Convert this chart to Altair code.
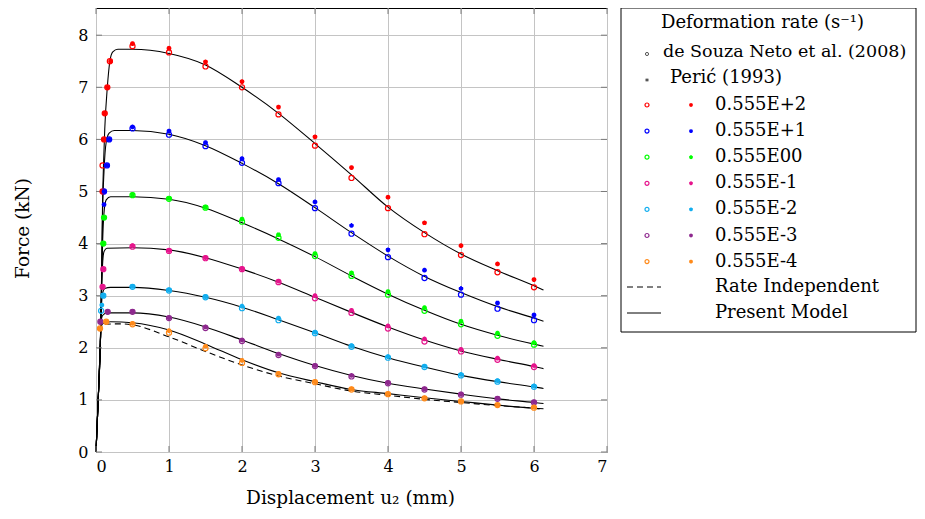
import altair as alt
import pandas as pd

# ---------------- data ----------------
X_MAIN = [0.5, 1.0, 1.5, 2.0, 2.5, 3.0, 3.5, 4.0, 4.5, 5.0, 5.5, 6.0]
RATES = ["0.555E+2", "0.555E+1", "0.555E00", "0.555E-1", "0.555E-2", "0.555E-3", "0.555E-4"]
RATE_COLORS = ["#ff0000", "#0000ff", "#00ff00", "#e6148c", "#12aeef", "#8e288e", "#ff8a1a"]

# de Souza Neto et al. (2008) -- open circles
SOUZA_X_E2 = [0.09, 0.09, 0.11, 0.12, 0.155, 0.19] + X_MAIN
SOUZA_Y_E2 = [5.0, 5.5, 6.0, 6.5, 7.0, 7.5, 7.79, 7.67, 7.40, 7.00, 6.48, 5.88, 5.26, 4.68, 4.18, 3.78, 3.45, 3.16]
SOUZA_X_E1 = [0.11, 0.15, 0.18] + X_MAIN
SOUZA_Y_E1 = [5.0, 5.5, 6.0, 6.21, 6.09, 5.87, 5.55, 5.16, 4.68, 4.19, 3.74, 3.34, 3.02, 2.75, 2.53]
SOUZA_X_E0 = [0.10, 0.11] + X_MAIN
SOUZA_Y_E0 = [4.0, 4.5, 4.93, 4.86, 4.69, 4.42, 4.11, 3.76, 3.38, 3.02, 2.71, 2.45, 2.23, 2.06]
SOUZA_X_EM1 = [0.09, 0.10] + X_MAIN
SOUZA_Y_EM1 = [3.17, 3.51, 3.94, 3.86, 3.72, 3.51, 3.26, 2.95, 2.67, 2.37, 2.12, 1.93, 1.77, 1.63]
SOUZA_X_EM2 = [0.07, 0.10] + X_MAIN
SOUZA_Y_EM2 = [2.71, 3.00, 3.17, 3.10, 2.97, 2.76, 2.53, 2.28, 2.02, 1.81, 1.63, 1.47, 1.35, 1.25]
SOUZA_X_EM3 = [0.06, 0.16] + X_MAIN
SOUZA_Y_EM3 = [2.50, 2.69, 2.69, 2.57, 2.38, 2.13, 1.86, 1.65, 1.45, 1.32, 1.20, 1.10, 1.02, 0.95]
SOUZA_X_EM4 = [0.055, 0.14] + X_MAIN
SOUZA_Y_EM4 = [2.37, 2.50, 2.45, 2.29, 1.99, 1.71, 1.49, 1.34, 1.20, 1.11, 1.03, 0.97, 0.90, 0.85]

# Peric (1993) -- asterisks
PERIC_X_E2 = [0.09, 0.11, 0.12, 0.155, 0.2] + X_MAIN
PERIC_Y_E2 = [5.0, 6.0, 6.5, 7.0, 7.5, 7.84, 7.75, 7.49, 7.11, 6.62, 6.05, 5.46, 4.89, 4.40, 3.96, 3.61, 3.31]
PERIC_X_E1 = [0.11, 0.11, 0.15, 0.18] + X_MAIN
PERIC_Y_E1 = [4.75, 5.0, 5.5, 6.0, 6.24, 6.16, 5.94, 5.63, 5.23, 4.80, 4.35, 3.88, 3.49, 3.14, 2.86, 2.63]
PERIC_X_E0 = [0.10, 0.11] + X_MAIN
PERIC_Y_E0 = [4.0, 4.5, 4.94, 4.87, 4.70, 4.47, 4.17, 3.81, 3.44, 3.08, 2.77, 2.51, 2.28, 2.10]
PERIC_X_EM1 = [0.09, 0.10] + X_MAIN
PERIC_Y_EM1 = [3.17, 3.51, 3.96, 3.87, 3.73, 3.52, 3.28, 3.00, 2.72, 2.42, 2.17, 1.97, 1.80, 1.66]
PERIC_X_EM2 = [0.08, 0.10] + X_MAIN
PERIC_Y_EM2 = [2.82, 3.00, 3.18, 3.11, 2.98, 2.80, 2.57, 2.30, 2.04, 1.83, 1.65, 1.49, 1.37, 1.27]
PERIC_X_EM3 = [0.06, 0.16] + X_MAIN
PERIC_Y_EM3 = [2.50, 2.69, 2.70, 2.58, 2.40, 2.15, 1.88, 1.66, 1.47, 1.33, 1.21, 1.11, 1.03, 0.96]
PERIC_X_EM4 = [0.055, 0.14] + X_MAIN
PERIC_Y_EM4 = [2.37, 2.50, 2.47, 2.33, 2.03, 1.76, 1.51, 1.35, 1.21, 1.12, 1.04, 0.97, 0.90, 0.86]

# Present model curves
TAIL_X = [0.5, 1.0, 1.5, 2.0, 2.5, 3.0, 3.5, 4.0, 4.5, 5.0, 5.5, 6.0, 6.13]
CURVE_X_E2 = [0, 0.03, 0.06, 0.075, 0.09, 0.105, 0.12, 0.155, 0.19, 0.23, 0.3] + TAIL_X
CURVE_Y_E2 = [0, 1.0, 2.1, 3.2, 4.8, 5.6, 6.2, 7.0, 7.5, 7.68, 7.73,
              7.73, 7.65, 7.43, 7.00, 6.50, 5.92, 5.32, 4.70, 4.21, 3.80, 3.48, 3.19, 3.11]
CURVE_X_E1 = [0, 0.03, 0.06, 0.075, 0.09, 0.11, 0.14, 0.18, 0.25] + TAIL_X
CURVE_Y_E1 = [0, 1.0, 2.1, 3.2, 4.6, 5.4, 5.95, 6.12, 6.17,
              6.17, 6.10, 5.88, 5.54, 5.15, 4.69, 4.21, 3.76, 3.37, 3.06, 2.79, 2.57, 2.51]
CURVE_X_E0 = [0, 0.03, 0.06, 0.075, 0.09, 0.11, 0.14, 0.2] + TAIL_X
CURVE_Y_E0 = [0, 1.0, 2.1, 3.1, 4.0, 4.6, 4.84, 4.9,
              4.90, 4.85, 4.68, 4.40, 4.09, 3.75, 3.38, 3.03, 2.72, 2.45, 2.24, 2.07, 2.03]
CURVE_X_EM1 = [0, 0.03, 0.06, 0.075, 0.09, 0.11, 0.15] + TAIL_X
CURVE_Y_EM1 = [0, 1.0, 2.1, 3.0, 3.6, 3.85, 3.91,
               3.92, 3.88, 3.73, 3.51, 3.26, 2.97, 2.68, 2.40, 2.15, 1.94, 1.78, 1.64, 1.60]
CURVE_X_EM2 = [0, 0.03, 0.06, 0.075, 0.09, 0.12, 0.2] + TAIL_X
CURVE_Y_EM2 = [0, 1.0, 2.1, 2.8, 3.05, 3.14, 3.16,
               3.16, 3.10, 2.97, 2.78, 2.54, 2.29, 2.03, 1.81, 1.63, 1.47, 1.35, 1.25, 1.22]
CURVE_X_EM3 = [0, 0.03, 0.06, 0.07, 0.09, 0.15] + TAIL_X
CURVE_Y_EM3 = [0, 1.0, 2.1, 2.5, 2.62, 2.67,
               2.67, 2.59, 2.40, 2.15, 1.89, 1.66, 1.47, 1.32, 1.21, 1.11, 1.02, 0.95, 0.93]
CURVE_X_EM4 = [0, 0.03, 0.06, 0.07, 0.1, 0.2] + TAIL_X
CURVE_Y_EM4 = [0, 1.0, 2.1, 2.4, 2.47, 2.5,
               2.48, 2.34, 2.07, 1.77, 1.52, 1.35, 1.20, 1.12, 1.04, 0.97, 0.90, 0.84, 0.83]

# Rate independent (dashed)
RI_X = [0, 0.03, 0.06, 0.065, 0.1, 0.3] + TAIL_X
RI_Y = [0, 1.0, 2.1, 2.35, 2.45, 2.46,
        2.44, 2.21, 1.93, 1.67, 1.46, 1.31, 1.17, 1.09, 1.01, 0.95, 0.89, 0.84, 0.82]

X_TICKS = [0, 1, 2, 3, 4, 5, 6, 7]
Y_TICKS = [0, 1, 2, 3, 4, 5, 6, 7, 8]

# ---------------- build tables ----------------
SOUZA = [(SOUZA_X_E2, SOUZA_Y_E2), (SOUZA_X_E1, SOUZA_Y_E1), (SOUZA_X_E0, SOUZA_Y_E0),
         (SOUZA_X_EM1, SOUZA_Y_EM1), (SOUZA_X_EM2, SOUZA_Y_EM2), (SOUZA_X_EM3, SOUZA_Y_EM3),
         (SOUZA_X_EM4, SOUZA_Y_EM4)]
PERIC = [(PERIC_X_E2, PERIC_Y_E2), (PERIC_X_E1, PERIC_Y_E1), (PERIC_X_E0, PERIC_Y_E0),
         (PERIC_X_EM1, PERIC_Y_EM1), (PERIC_X_EM2, PERIC_Y_EM2), (PERIC_X_EM3, PERIC_Y_EM3),
         (PERIC_X_EM4, PERIC_Y_EM4)]
CURVES = [(CURVE_X_E2, CURVE_Y_E2), (CURVE_X_E1, CURVE_Y_E1), (CURVE_X_E0, CURVE_Y_E0),
          (CURVE_X_EM1, CURVE_Y_EM1), (CURVE_X_EM2, CURVE_Y_EM2), (CURVE_X_EM3, CURVE_Y_EM3),
          (CURVE_X_EM4, CURVE_Y_EM4)]


def to_df(pairs):
    rows = []
    for name, (xs, ys) in zip(RATES, pairs):
        for i, (x, y) in enumerate(zip(xs, ys)):
            rows.append({"x": x, "y": y, "series": name, "i": i})
    return pd.DataFrame(rows)


souza_df = to_df(SOUZA)
peric_df = to_df(PERIC)
curve_df = to_df(CURVES)
ri_df = pd.DataFrame({"x": RI_X, "y": RI_Y, "i": list(range(len(RI_X)))})
xt_df = pd.DataFrame({"v": X_TICKS})
yt_df = pd.DataFrame({"v": Y_TICKS})

FONT = "DejaVu Serif"
W, H = 511, 444
X_SCALE = alt.Scale(domain=[0, 7], nice=False, zero=False)
Y_SCALE = alt.Scale(domain=[0, 8.522], nice=False, zero=False)
COLOR = alt.Color("series:N", scale=alt.Scale(domain=RATES, range=RATE_COLORS), legend=None)
ASTERISK = ("M0,-1L0,1M-0.95,-0.31L0.95,0.31M-0.95,0.31L0.95,-0.31"
            "M-0.59,0.81L0.59,-0.81M-0.59,-0.81L0.59,0.81")

x_enc = alt.X("x:Q", scale=X_SCALE,
              axis=alt.Axis(values=X_TICKS, format="d", grid=True, ticks=False, tickSize=0,
                            domain=False, labelPadding=6, title="Displacement u₂ (mm)",
                            titleX=254, titleY=45, titleBaseline="middle", titleAlign="center"))
y_enc = alt.Y("y:Q", scale=Y_SCALE,
              axis=alt.Axis(values=Y_TICKS, format="d", grid=True, ticks=False, tickSize=0,
                            domain=False, labelPadding=8, title="Force (kN)",
                            titleX=-74, titleY=220, titleAngle=270, titleBaseline="middle",
                            titleAlign="center"))

curves = alt.Chart(curve_df).mark_line(color="black", strokeWidth=1.1, interpolate="monotone").encode(
    x=x_enc, y=y_enc, detail="series:N", order="i:Q")
ri_line = alt.Chart(ri_df).mark_line(color="black", strokeWidth=1.1, strokeDash=[6, 4],
                                     interpolate="monotone").encode(
    x=alt.X("x:Q", scale=X_SCALE), y=alt.Y("y:Q", scale=Y_SCALE), order="i:Q")
circles = alt.Chart(souza_df).mark_point(shape="circle", filled=False, size=26, strokeWidth=1.2,
                                         opacity=1).encode(
    x=alt.X("x:Q", scale=X_SCALE), y=alt.Y("y:Q", scale=Y_SCALE), color=COLOR)
stars = alt.Chart(peric_df).mark_point(shape=ASTERISK, filled=False, size=22, strokeWidth=1.6,
                                       opacity=1).encode(
    x=alt.X("x:Q", scale=X_SCALE), y=alt.Y("y:Q", scale=Y_SCALE), color=COLOR)

TICK_COLOR = "#7a7a7a"
ticks_right = alt.Chart(yt_df).mark_rule(color=TICK_COLOR).encode(
    y=alt.Y("v:Q", scale=Y_SCALE), x=alt.value(W - 6), x2=alt.value(W))
ticks_left = alt.Chart(yt_df).mark_rule(color=TICK_COLOR).encode(
    y=alt.Y("v:Q", scale=Y_SCALE), x=alt.value(0), x2=alt.value(6))
ticks_bottom = alt.Chart(xt_df).mark_rule(color=TICK_COLOR).encode(
    x=alt.X("v:Q", scale=X_SCALE), y=alt.value(H - 6), y2=alt.value(H))
ticks_top = alt.Chart(xt_df).mark_rule(color=TICK_COLOR).encode(
    x=alt.X("v:Q", scale=X_SCALE), y=alt.value(0), y2=alt.value(6))

# ---------------- custom legend (pixel positions relative to plot origin) ----------------
one = pd.DataFrame({"a": [0]})
LX0, LX1, LY0, LY1 = 525, 820, 0, 324
legend_layers = [
    alt.Chart(one).mark_rect(fill="white", stroke="black", strokeWidth=1).encode(
        x=alt.value(LX0), x2=alt.value(LX1), y=alt.value(LY0), y2=alt.value(LY1))
]


def ltext(txt, px, py, size=18):
    return alt.Chart(one).mark_text(text=txt, align="left", baseline="middle", font=FONT,
                                    fontSize=size, color="black").encode(
        x=alt.value(px), y=alt.value(py))


legend_layers.append(ltext("Deformation rate (s⁻¹)", 565, 15))
legend_layers.append(ltext("de Souza Neto et al. (2008)", 567, 44, 17.5))
legend_layers.append(ltext("Perić (1993)", 574, 70))
legend_layers.append(alt.Chart(one).mark_point(shape="circle", filled=False, size=10, color="#555",
                                               strokeWidth=1, opacity=1).encode(
    x=alt.value(551), y=alt.value(46)))
legend_layers.append(alt.Chart(one).mark_point(shape=ASTERISK, filled=False, size=10, color="#555",
                                               strokeWidth=1, opacity=1).encode(
    x=alt.value(551), y=alt.value(72)))
for k, (name, col) in enumerate(zip(RATES, RATE_COLORS)):
    py = 97 + k * 26.1
    legend_layers.append(alt.Chart(one).mark_point(shape="circle", filled=False, size=16, color=col,
                                                   strokeWidth=1.2, opacity=1).encode(
        x=alt.value(551), y=alt.value(py)))
    legend_layers.append(alt.Chart(one).mark_point(shape=ASTERISK, filled=False, size=14, color=col,
                                                   strokeWidth=1.5, opacity=1).encode(
        x=alt.value(595), y=alt.value(py)))
    legend_layers.append(ltext(name, 619, py))
legend_layers.append(alt.Chart(one).mark_rule(color="black", strokeWidth=1, strokeDash=[6, 4]).encode(
    x=alt.value(531), x2=alt.value(565), y=alt.value(279)))
legend_layers.append(ltext("Rate Independent", 619, 279))
legend_layers.append(alt.Chart(one).mark_rule(color="black", strokeWidth=1).encode(
    x=alt.value(531), x2=alt.value(565), y=alt.value(305)))
legend_layers.append(ltext("Present Model", 619, 305))

chart = alt.layer(
    curves, ri_line, ticks_right, ticks_left, ticks_bottom, ticks_top, circles, stars,
    *legend_layers
).properties(
    width=W, height=H,
    background="white",
    autosize=alt.AutoSizeParams(type="none"),
    padding={"left": 88, "top": 0, "right": 310, "bottom": 60},
).configure_view(
    stroke="black", strokeWidth=1
).configure_axis(
    labelFont=FONT, labelFontSize=16, labelColor="black",
    titleFont=FONT, titleFontSize=18.5, titleColor="black", titleFontWeight="normal",
    gridColor="#c4c4c4", gridWidth=1,
)

chart.save("out.html", embed_options={"renderer": "svg", "actions": False})
